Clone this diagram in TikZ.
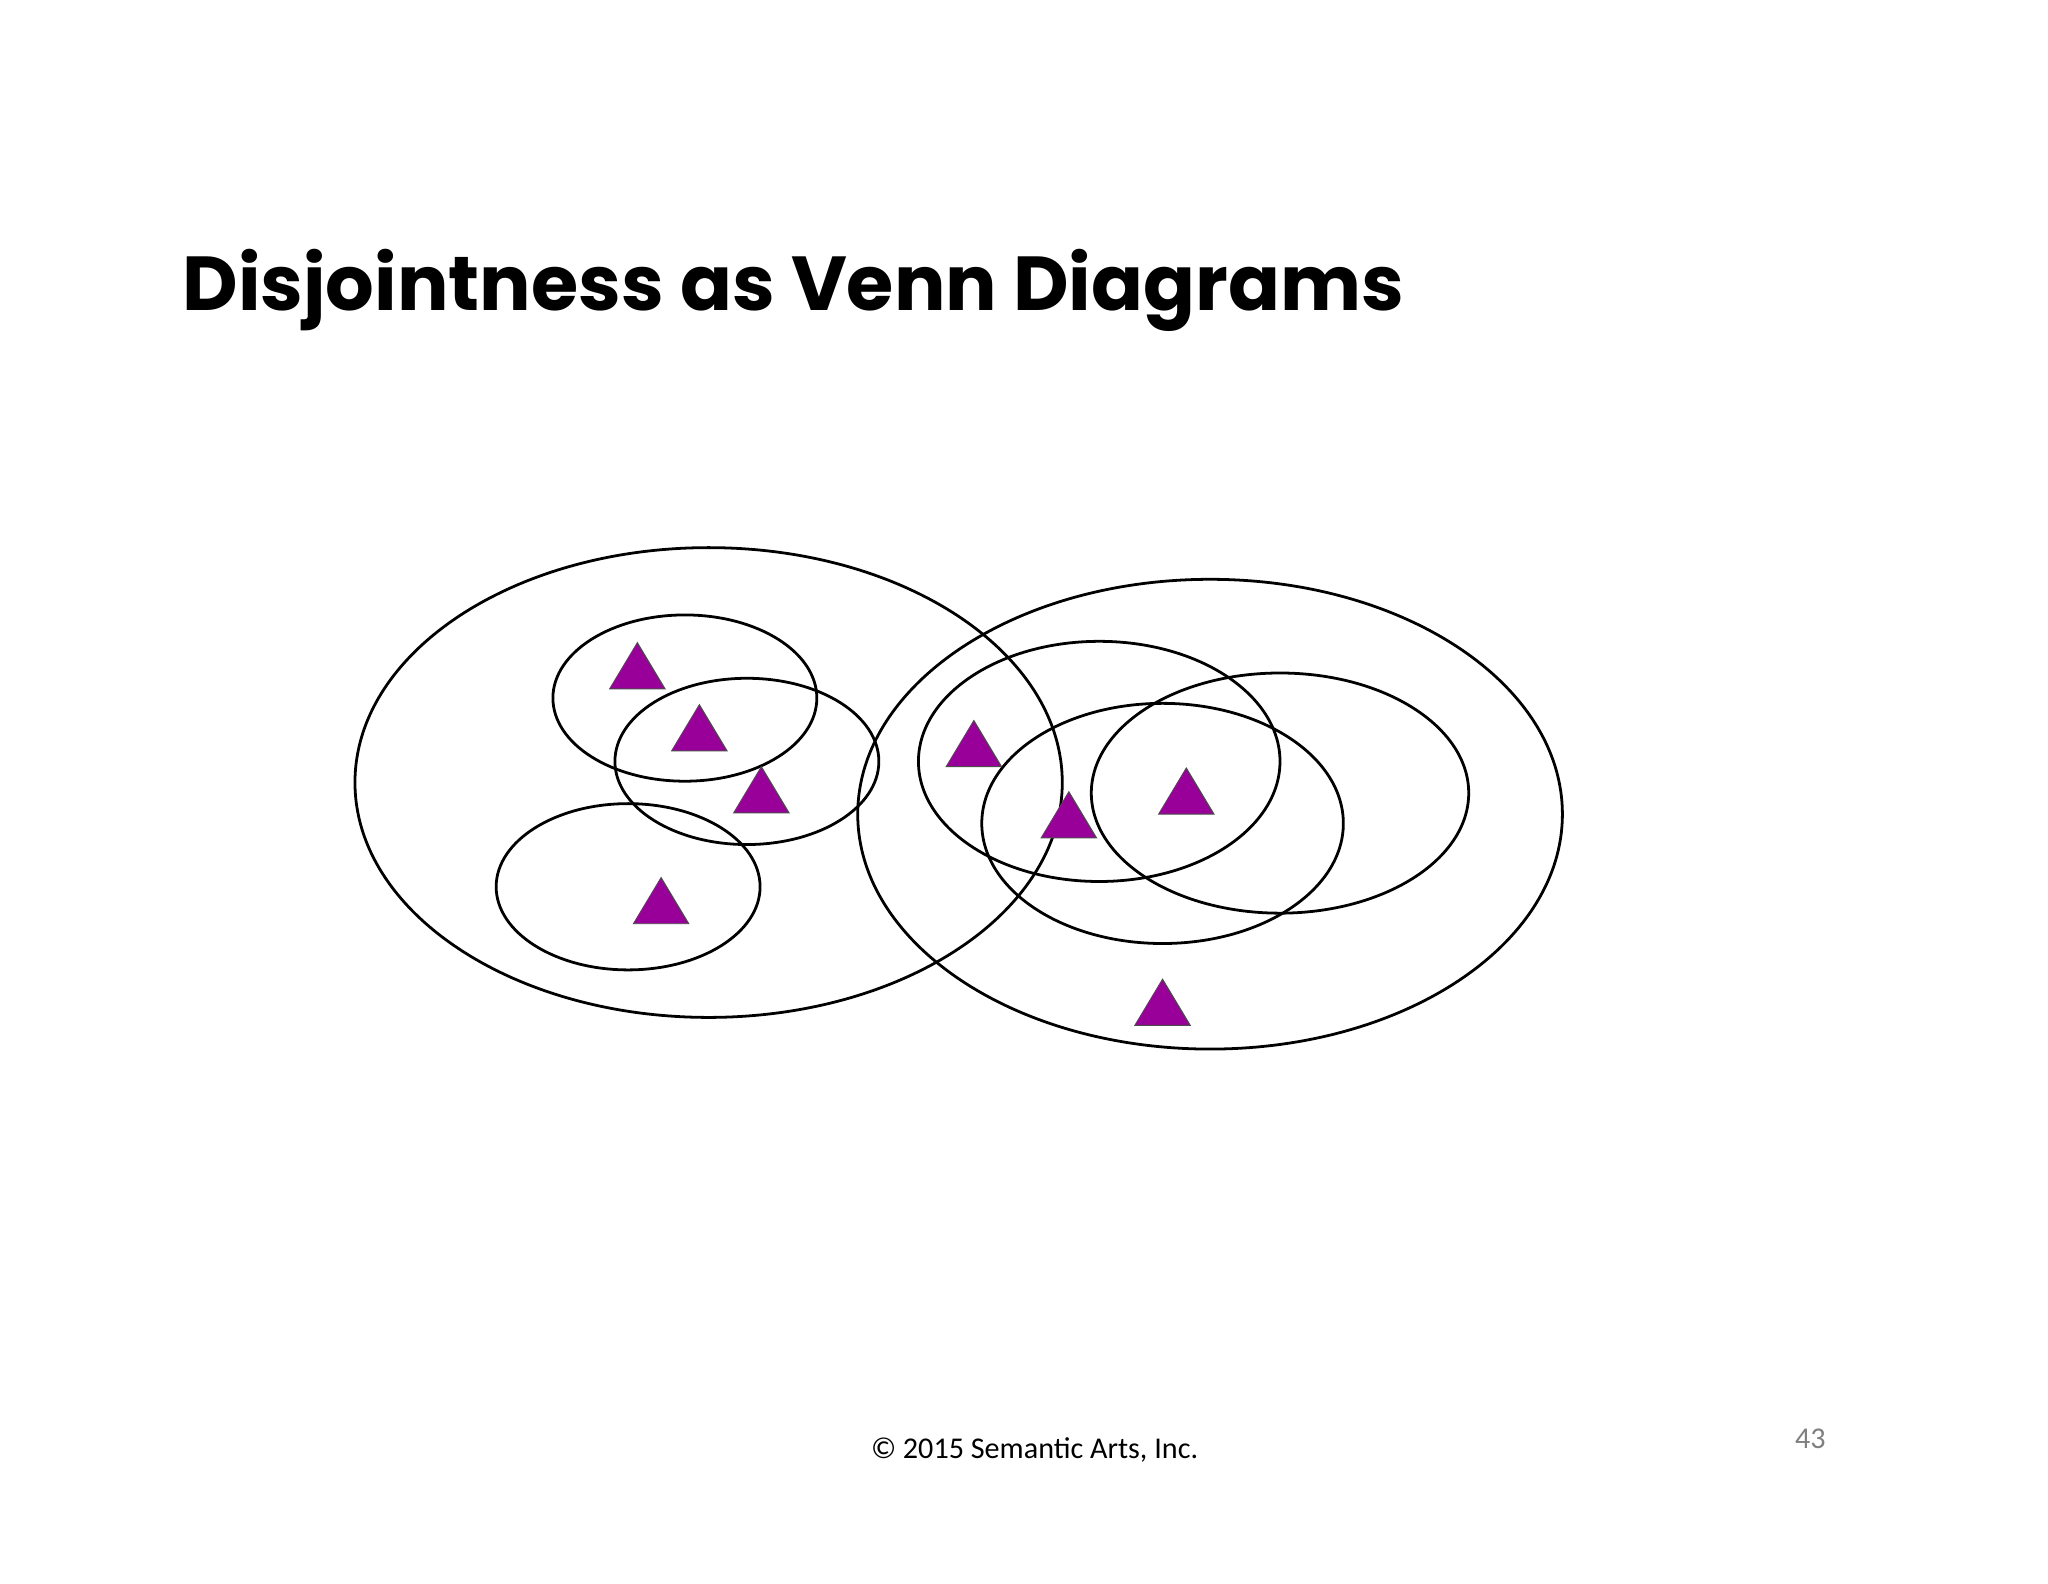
\documentclass[tikz,border=0pt]{standalone}
\usepackage{fontspec}
\setmainfont{Carlito}
\newfontfamily\titlefont{Poppins}
\begin{document}
\begin{tikzpicture}[x=0.02cm,y=-0.02cm,
  ring/.style={draw=black,line width=1.2pt},
  tri/.style={draw=black!70,line width=0.4pt}]
\definecolor{purple}{HTML}{990099}
\useasboundingbox (0,0) rectangle (1552,1200);
\fill[white] (0,0) rectangle (1552,1200);
\node[anchor=base west,inner sep=0,font=\titlefont\bfseries\fontsize{33}{40}\selectfont] (title) at (138,235) {Disjointness as Venn Diagrams};
\draw[ring] (537,593) ellipse [x radius=268,y radius=178];
\draw[ring] (917,617) ellipse [x radius=267,y radius=178];
\draw[ring] (519,529) ellipse [x radius=100,y radius=63];
\draw[ring] (566,577) ellipse [x radius=100,y radius=63];
\draw[ring] (476,672) ellipse [x radius=100,y radius=63];
\draw[ring] (833,577) ellipse [x radius=137,y radius=91];
\draw[ring] (881,624) ellipse [x radius=137,y radius=91];
\draw[ring] (970,601) ellipse [x radius=143,y radius=91];
\foreach \x/\y in {483/505,530/552,577/599,501/683,738/564,810/618,899/600,881/760}
  \draw[tri,fill=purple] (\x-21,\y+17) -- (\x+21,\y+17) -- (\x,\y-18) -- cycle;
\node[font=\fontsize{13}{15}\selectfont] (foot) at (784,1099) {© 2015 Semantic Arts, Inc.};
\node[font=\fontsize{13}{15}\selectfont,text=gray] (pg) at (1372,1090) {43};
\end{tikzpicture}
\end{document}
